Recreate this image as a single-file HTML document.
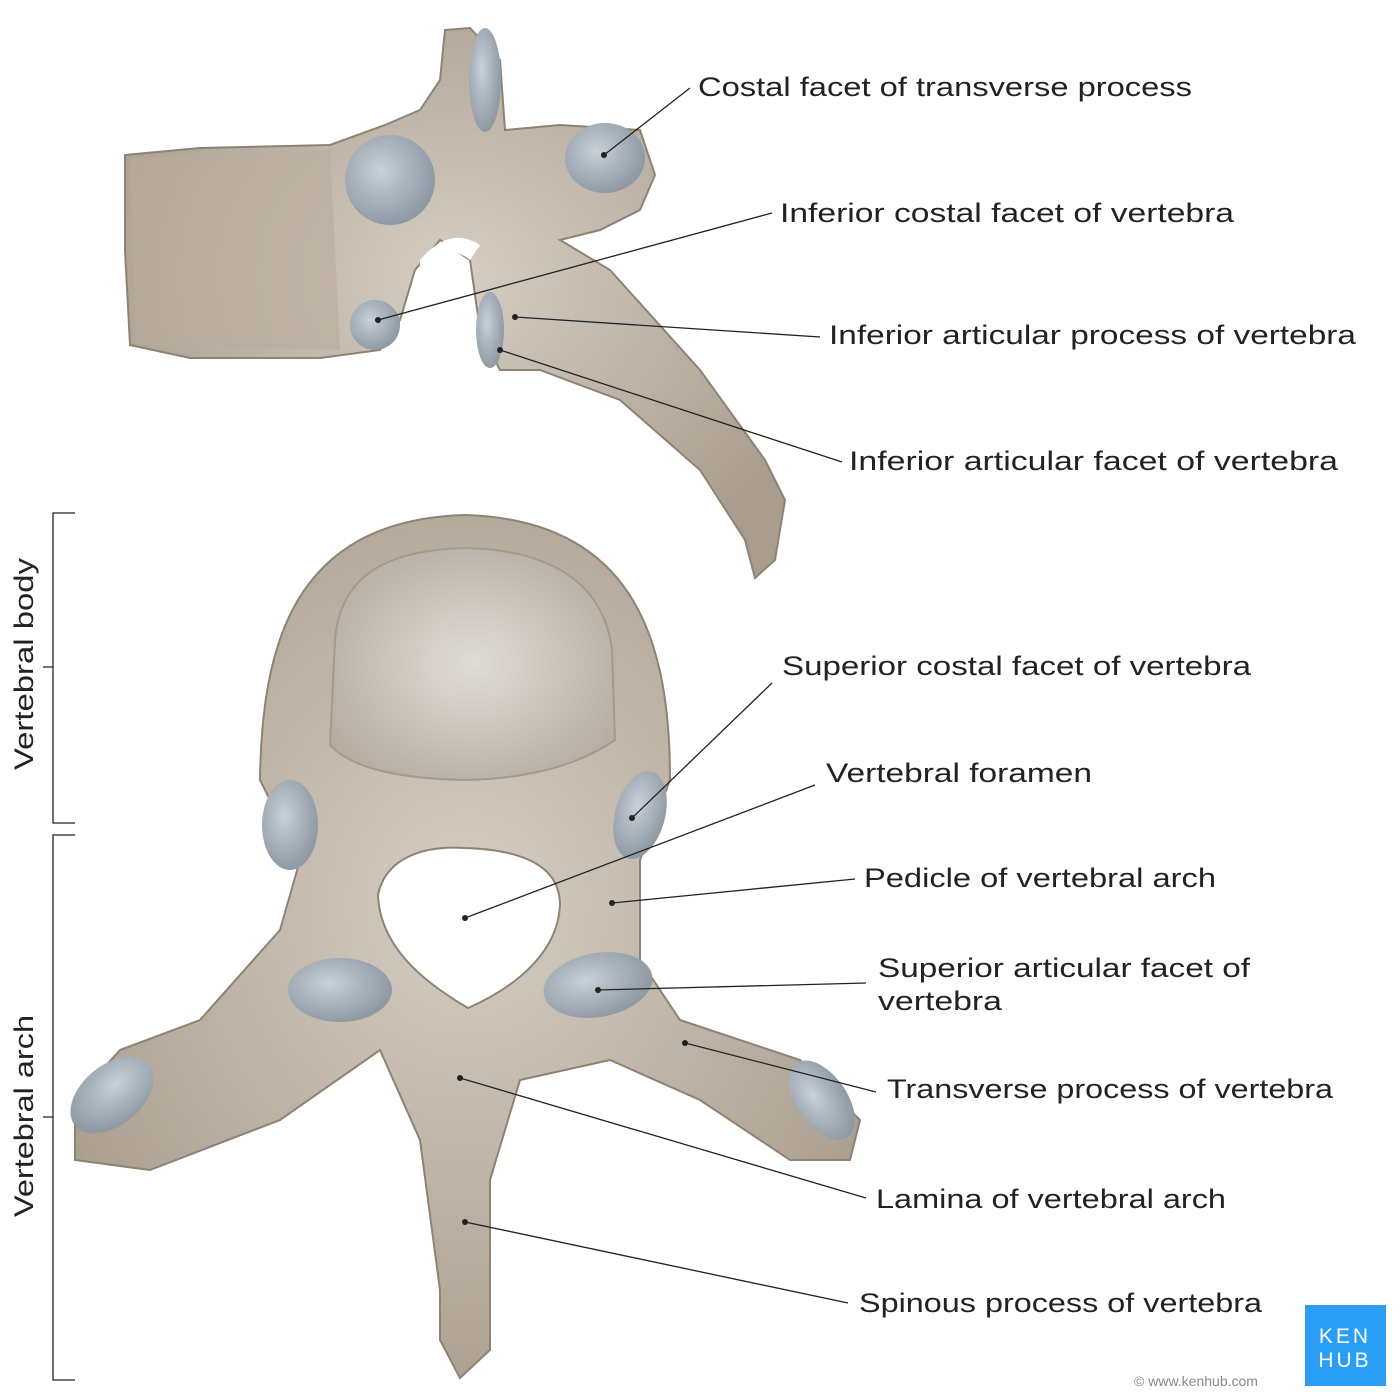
<!DOCTYPE html>
<html><head><meta charset="utf-8"><style>
html,body{margin:0;padding:0;background:#fff;}
svg{display:block;}
text{font-family:"Liberation Sans",sans-serif;fill:#222;}
</style></head><body>
<svg width="1400" height="1400" viewBox="0 0 1400 1400" xmlns="http://www.w3.org/2000/svg">
<defs>
<radialGradient id="bone" cx="50%" cy="45%" r="60%"><stop offset="0" stop-color="#d6cec3"/><stop offset="1" stop-color="#a99d8e"/></radialGradient>
<radialGradient id="facet" cx="40%" cy="40%" r="60%"><stop offset="0" stop-color="#c8d0d8"/><stop offset="1" stop-color="#8f9aa5"/></radialGradient>
<radialGradient id="spong" cx="50%" cy="50%" r="60%"><stop offset="0" stop-color="#e0dcd6"/><stop offset="1" stop-color="#b5aca1"/></radialGradient>
</defs>
<rect width="1400" height="1400" fill="#fff"/>

<!-- TOP vertebra (lateral) -->
<g>
<path d="M445,30 L470,28 L500,60 L505,130 L560,125 L640,130 L655,175 L640,210 L600,230 L560,240 L610,270 L700,370 L765,460 L785,500 L775,560 L755,578 L745,540 L700,470 L620,400 L540,370 L500,370 L480,330 L470,260 L440,240 L415,270 L400,320 L380,350 L320,358 L190,358 L130,345 L125,250 L125,155 L200,148 L330,145 L385,125 L420,110 L440,80 Z" fill="url(#bone)" stroke="#8e8274" stroke-width="2"/>
<path d="M130,158 L330,150 L340,350 L135,345 Z" fill="#b7ab9c" opacity="0.6"/>
<ellipse cx="485" cy="80" rx="16" ry="52" fill="url(#facet)"/>
<ellipse cx="390" cy="180" rx="45" ry="45" fill="url(#facet)"/>
<ellipse cx="605" cy="158" rx="40" ry="35" fill="url(#facet)"/>
<ellipse cx="375" cy="325" rx="25" ry="25" fill="url(#facet)"/>
<ellipse cx="490" cy="330" rx="14" ry="38" fill="url(#facet)"/>
<path d="M420,260 Q450,225 480,245 L470,260 Q445,240 420,270Z" fill="#fff"/>
</g>

<!-- BOTTOM vertebra (superior) -->
<g>
<path d="M300,860 L280,930 L200,1020 L120,1050 L75,1100 L75,1160 L150,1170 L280,1120 L380,1050 L420,1140 L440,1290 L440,1340 L460,1378 L490,1350 L490,1180 L520,1080 L610,1060 L700,1100 L790,1160 L850,1160 L860,1120 L800,1060 L680,1020 L640,960 L640,860 L670,780 C670,650 640,520 465,515 C290,520 262,650 260,780 Z" fill="url(#bone)" stroke="#8e8274" stroke-width="2"/>
<path d="M335,640 C340,580 380,550 465,548 C560,550 605,590 612,650 L615,740 Q560,778 465,780 Q360,778 330,745 Z" fill="url(#spong)" stroke="#a69a8a" stroke-width="2"/>
<path d="M378,895 C385,860 420,845 465,848 C530,850 560,870 560,905 C558,950 520,985 468,1008 C420,980 380,945 378,895 Z" fill="#fff" stroke="#8e8274" stroke-width="2"/>
<ellipse cx="290" cy="825" rx="28" ry="45" fill="url(#facet)"/>
<ellipse cx="640" cy="815" rx="25" ry="45" fill="url(#facet)" transform="rotate(15 640 815)"/>
<ellipse cx="340" cy="990" rx="52" ry="32" fill="url(#facet)"/>
<ellipse cx="598" cy="985" rx="55" ry="32" fill="url(#facet)" transform="rotate(-10 598 985)"/>
<ellipse cx="112" cy="1095" rx="30" ry="48" fill="url(#facet)" transform="rotate(50 112 1095)"/>
<ellipse cx="822" cy="1100" rx="25" ry="45" fill="url(#facet)" transform="rotate(-35 822 1100)"/>
</g>

<!-- leader lines -->
<g stroke="#222" stroke-width="1.3" fill="none">
<line x1="604" y1="155" x2="690" y2="88"/>
<line x1="378" y1="320" x2="772" y2="213"/>
<line x1="515" y1="317" x2="820" y2="337"/>
<line x1="500" y1="350" x2="842" y2="462"/>
<line x1="632" y1="818" x2="772" y2="683"/>
<line x1="465" y1="918" x2="815" y2="785"/>
<line x1="612" y1="903" x2="855" y2="879"/>
<line x1="598" y1="990" x2="866" y2="983"/>
<line x1="685" y1="1043" x2="876" y2="1092"/>
<line x1="460" y1="1078" x2="866" y2="1198"/>
<line x1="465" y1="1222" x2="848" y2="1303"/>
<path d="M75,513 H53 V823 H75 M53,667 H43"/>
<path d="M75,835 H53 V1380 H75 M53,1117 H43"/>
</g>
<g fill="#222">
<circle cx="604" cy="155" r="3"/><circle cx="378" cy="320" r="3"/><circle cx="515" cy="317" r="3"/><circle cx="500" cy="350" r="3"/>
<circle cx="632" cy="818" r="3"/><circle cx="465" cy="918" r="3"/><circle cx="612" cy="903" r="3"/><circle cx="598" cy="990" r="3"/>
<circle cx="685" cy="1043" r="3"/><circle cx="460" cy="1078" r="3"/><circle cx="465" cy="1222" r="3"/>
</g>

<g font-size="27" lengthAdjust="spacingAndGlyphs">
<text x="698" y="96" textLength="494" lengthAdjust="spacingAndGlyphs">Costal facet of transverse process</text>
<text x="780" y="222" textLength="454" lengthAdjust="spacingAndGlyphs">Inferior costal facet of vertebra</text>
<text x="829" y="344" textLength="527" lengthAdjust="spacingAndGlyphs">Inferior articular process of vertebra</text>
<text x="849" y="470" textLength="489" lengthAdjust="spacingAndGlyphs">Inferior articular facet of vertebra</text>
<text x="782" y="675" textLength="469" lengthAdjust="spacingAndGlyphs">Superior costal facet of vertebra</text>
<text x="826" y="782" textLength="266" lengthAdjust="spacingAndGlyphs">Vertebral foramen</text>
<text x="864" y="887" textLength="352" lengthAdjust="spacingAndGlyphs">Pedicle of vertebral arch</text>
<text x="878" y="977" textLength="372" lengthAdjust="spacingAndGlyphs">Superior articular facet of</text>
<text x="878" y="1010" textLength="124" lengthAdjust="spacingAndGlyphs">vertebra</text>
<text x="887" y="1098" textLength="446" lengthAdjust="spacingAndGlyphs">Transverse process of vertebra</text>
<text x="876" y="1208" textLength="350" lengthAdjust="spacingAndGlyphs">Lamina of vertebral arch</text>
<text x="859" y="1312" textLength="403" lengthAdjust="spacingAndGlyphs">Spinous process of vertebra</text>
<text transform="translate(33,770) rotate(-90)" textLength="212" lengthAdjust="spacingAndGlyphs">Vertebral body</text>
<text transform="translate(33,1217) rotate(-90)" textLength="202" lengthAdjust="spacingAndGlyphs">Vertebral arch</text>
</g>

<rect x="1305" y="1305" width="81" height="81" fill="#2a9df4"/>
<text x="1345" y="1343" font-size="21" text-anchor="middle" style="fill:#fff;letter-spacing:3px">KEN</text>
<text x="1345" y="1367" font-size="21" text-anchor="middle" style="fill:#fff;letter-spacing:3px">HUB</text>
<text x="1196" y="1386" font-size="14" text-anchor="middle" style="fill:#888">© www.kenhub.com</text>
</svg>
</body></html>
